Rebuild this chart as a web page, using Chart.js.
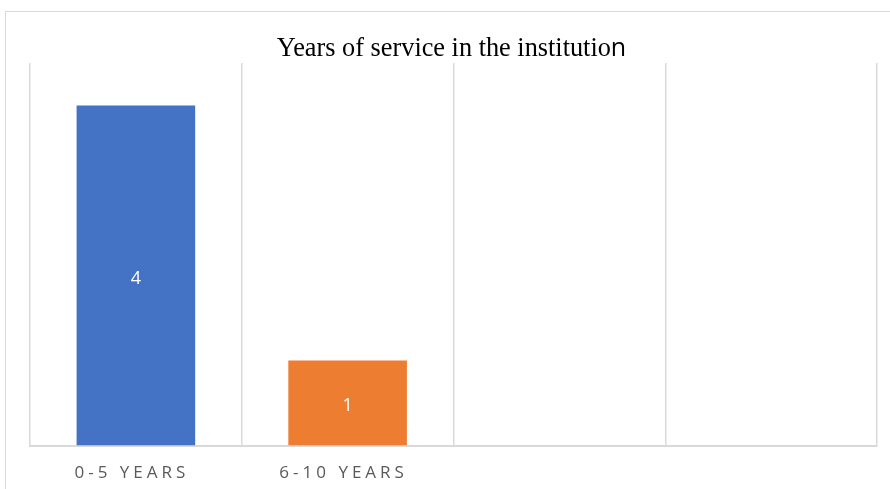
<!DOCTYPE html>
<html>
<head>
<meta charset="utf-8">
<script src="https://cdn.jsdelivr.net/npm/chart.js@4"></script>
<style>
  html, body { margin: 0; padding: 0; background: #ffffff; }
  #wrap { position: relative; width: 890px; height: 489px; overflow: hidden; }
  #frame { position: absolute; left: 5px; top: 11px; width: 900px; height: 520px; border: 1px solid #d9d9d9; box-sizing: border-box; }
  #chart { position: absolute; left: 0; top: 0; }
</style>
</head>
<body>
<div id="wrap">
  <div id="frame"></div>
  <canvas id="chart" width="890" height="510"></canvas>
</div>
<script>
// === DATOS DEL GRÁFICO ===
const categories = ["0-5 YEARS", "6-10 YEARS", "", ""];
const serviceCounts = [4, 1, null, null];
const barColors = ["#4472C4", "#ED7D31", "#A5A5A5", "#FFC000"];
const chartTitle = ["Years of service in the institutio", "n"];

const GRID = "#d9d9d9";

// Etiquetas con espaciado de letras en el eje X (solo mientras se dibujan las escalas)
const spacingPlugin = {
    id: "spacing",
    beforeDraw(chart) { chart.ctx.letterSpacing = "4px"; },
    beforeDatasetsDraw(chart) { chart.ctx.letterSpacing = "0px"; }
};

// Valor dentro de cada barra
const valueLabels = {
    id: "valueLabels",
    afterDatasetsDraw(chart) {
        const ctx = chart.ctx;
        const meta = chart.getDatasetMeta(0);
        ctx.save();
        ctx.font = "18px 'Open Sans'";
        ctx.fillStyle = "#ffffff";
        ctx.textAlign = "center";
        ctx.textBaseline = "middle";
        meta.data.forEach((bar, i) => {
            const v = serviceCounts[i];
            if (v == null) return;
            const p = bar.getCenterPoint();
            ctx.fillText(String(v), p.x, p.y + 3);
        });
        ctx.restore();
    }
};

// Título (la última letra viene en otra fuente en el original)
const titlePlugin = {
    id: "titleMixed",
    afterDraw(chart) {
        const ctx = chart.ctx;
        const area = chart.chartArea;
        ctx.save();
        ctx.letterSpacing = "0px";
        ctx.fillStyle = "#000000";
        ctx.textBaseline = "alphabetic";
        ctx.textAlign = "left";
        const f1 = "26.3px 'Liberation Serif'";
        const f2 = "25px 'Open Sans'";
        ctx.font = f1;
        const w1 = ctx.measureText(chartTitle[0]).width;
        ctx.font = f2;
        const w2 = ctx.measureText(chartTitle[1]).width;
        const x0 = (area.left + area.right) / 2 - (w1 + w2) / 2 - 2;
        const y = area.top - 7;
        ctx.font = f1;
        ctx.fillText(chartTitle[0], x0, y);
        ctx.font = f2;
        ctx.fillText(chartTitle[1], x0 + w1, y);
        ctx.restore();
    }
};

new Chart(document.getElementById("chart"), {
    type: "bar",
    data: {
        labels: categories,
        datasets: [{
            data: serviceCounts,
            backgroundColor: barColors,
            borderWidth: 0,
            categoryPercentage: 1,
            barPercentage: 0.56
        }]
    },
    options: {
        responsive: false,
        animation: false,
        layout: { padding: { left: 30, right: 13, top: 63, bottom: 10 } },
        plugins: {
            legend: { display: false },
            title: { display: false },
            tooltip: { enabled: false }
        },
        scales: {
            x: {
                grid: { color: GRID, lineWidth: 1.5, drawTicks: false, offset: true },
                border: { color: GRID, width: 2 },
                ticks: {
                    color: "#595959",
                    font: { family: "'Open Sans'", size: 17 },
                    padding: 17,
                    labelOffset: -4,
                    maxRotation: 0,
                    autoSkip: false
                }
            },
            y: {
                display: false,
                min: 0,
                max: 4.5
            }
        }
    },
    plugins: [spacingPlugin, valueLabels, titlePlugin]
});
</script>
</body>
</html>
